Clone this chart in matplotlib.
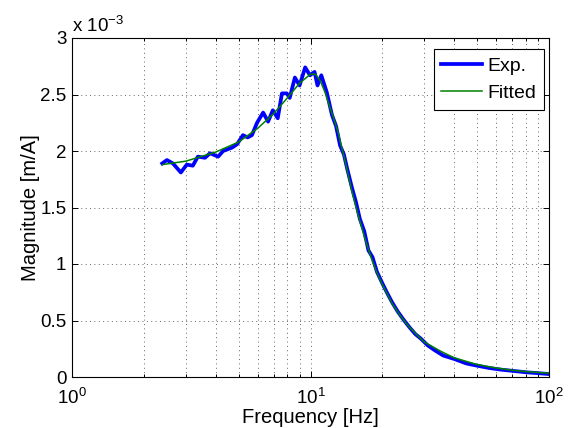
import matplotlib
matplotlib.use("Agg")
import matplotlib.pyplot as plt
from matplotlib.ticker import FixedLocator, LogLocator, NullFormatter

plt.rcParams["font.family"] = ["Liberation Sans", "DejaVu Sans"]
plt.rcParams["mathtext.fontset"] = "custom"
plt.rcParams["mathtext.rm"] = "Liberation Sans"
plt.rcParams["mathtext.it"] = "Liberation Sans"

# measured response (magnitude in 1e-3 m/A)
exp_freq = [2.39, 2.5, 2.65, 2.86, 3.03, 3.21, 3.37, 3.61, 3.79, 4.10, 4.30,
            4.69, 4.92, 5.21, 5.45, 5.68, 5.97, 6.33, 6.64, 6.95, 7.29, 7.59,
            7.95, 8.18, 8.6, 9.0, 9.5, 9.95, 10.4, 10.7, 11.1, 11.7, 12.3,
            12.8, 13.3, 13.8, 14.3, 14.9, 15.5, 16.1, 16.8, 17.5, 18.2, 19.0,
            20.0, 21.0, 22.0, 23.2, 24.5, 26.0, 27.5, 29.0, 31.0, 33.0, 36.0,
            40.0, 45.0, 50.0, 56.0, 63.0, 70.0, 80.0, 90.0, 100.0]
exp_mag = [1.89, 1.92, 1.89, 1.81, 1.88, 1.87, 1.95, 1.94, 1.98, 1.95, 2.00,
           2.03, 2.06, 2.14, 2.12, 2.14, 2.25, 2.34, 2.26, 2.36, 2.29, 2.51,
           2.51, 2.47, 2.65, 2.58, 2.74, 2.67, 2.70, 2.58, 2.67, 2.52, 2.32,
           2.22, 2.05, 1.97, 1.83, 1.68, 1.55, 1.40, 1.29, 1.12, 1.06, 0.93,
           0.83, 0.74, 0.66, 0.58, 0.51, 0.44, 0.38, 0.34, 0.28, 0.24, 0.19,
           0.16, 0.12, 0.10, 0.08, 0.065, 0.055, 0.042, 0.034, 0.026]

# fitted model
fit_freq = [2.4, 3.0, 4.0, 5.0, 6.0, 7.0, 8.0, 9.0, 10.0, 10.5, 11.0, 11.5,
            12.0, 13.0, 14.0, 15.0, 16.0, 17.0, 18.0, 19.0, 20.0, 22.0, 24.0,
            26.0, 28.0, 30.0, 35.0, 40.0, 50.0, 60.0, 70.0, 80.0, 90.0, 100.0]
fit_mag = [1.88, 1.91, 1.99, 2.08, 2.20, 2.33, 2.47, 2.60, 2.68, 2.68, 2.62,
           2.52, 2.40, 2.18, 1.90, 1.62, 1.40, 1.21, 1.05, 0.92, 0.82, 0.65,
           0.53, 0.44, 0.37, 0.31, 0.23, 0.17, 0.11, 0.08, 0.06, 0.048,
           0.040, 0.034]

y_ticks = [0, 0.5, 1, 1.5, 2, 2.5, 3]

fig = plt.figure(figsize=(5.73, 4.28), dpi=100)
ax = fig.add_axes([72 / 573, 51 / 428, 477 / 573, 339 / 428])

ax.plot(exp_freq, exp_mag, color=(0, 0, 1), lw=2.7, label="Exp.")
ax.plot(fit_freq, fit_mag, color=(0, 0.5, 0), lw=1.1, label="Fitted")

ax.set_xscale("log")
ax.set_xlim(1, 100)
ax.set_ylim(0, 3)
ax.xaxis.set_major_locator(LogLocator(base=10))
ax.xaxis.set_minor_locator(LogLocator(base=10, subs=range(2, 10)))
ax.xaxis.set_minor_formatter(NullFormatter())
ax.yaxis.set_major_locator(FixedLocator(y_ticks))
ax.set_yticklabels(["%g" % v for v in y_ticks])

ax.grid(True, which="major", ls=(0, (1, 3.5)), color="0.4", lw=0.7)
ax.grid(True, which="minor", axis="x", ls=(0, (1, 3.5)), color="0.4", lw=0.7)
ax.tick_params(which="both", direction="in", top=True, right=True,
               labelsize=13.5, length=4, width=0.7)
ax.tick_params(which="minor", length=2.5)
ax.tick_params(axis="x", which="major", pad=8)
ax.tick_params(axis="y", pad=4)
for s in ax.spines.values():
    s.set_linewidth(0.8)

ax.set_xlabel("Frequency [Hz]", fontsize=14.5, labelpad=0)
ax.set_ylabel("Magnitude [m/A]", fontsize=14.5, labelpad=0)
ax.text(0.0, 1.005, r"x 10$^{-3}$", transform=ax.transAxes, fontsize=13.5,
        ha="left", va="bottom")

leg = ax.legend(loc="upper right", fontsize=14, fancybox=False,
                edgecolor="black", framealpha=1, handlelength=2.1,
                borderaxespad=0.2, labelspacing=0.5, handletextpad=0.25,
                borderpad=0.4, bbox_to_anchor=(0.997, 0.978))
leg.get_frame().set_linewidth(0.8)
leg.legend_handles[0].set_linewidth(2.7)

fig.savefig("out.png", dpi=100)
